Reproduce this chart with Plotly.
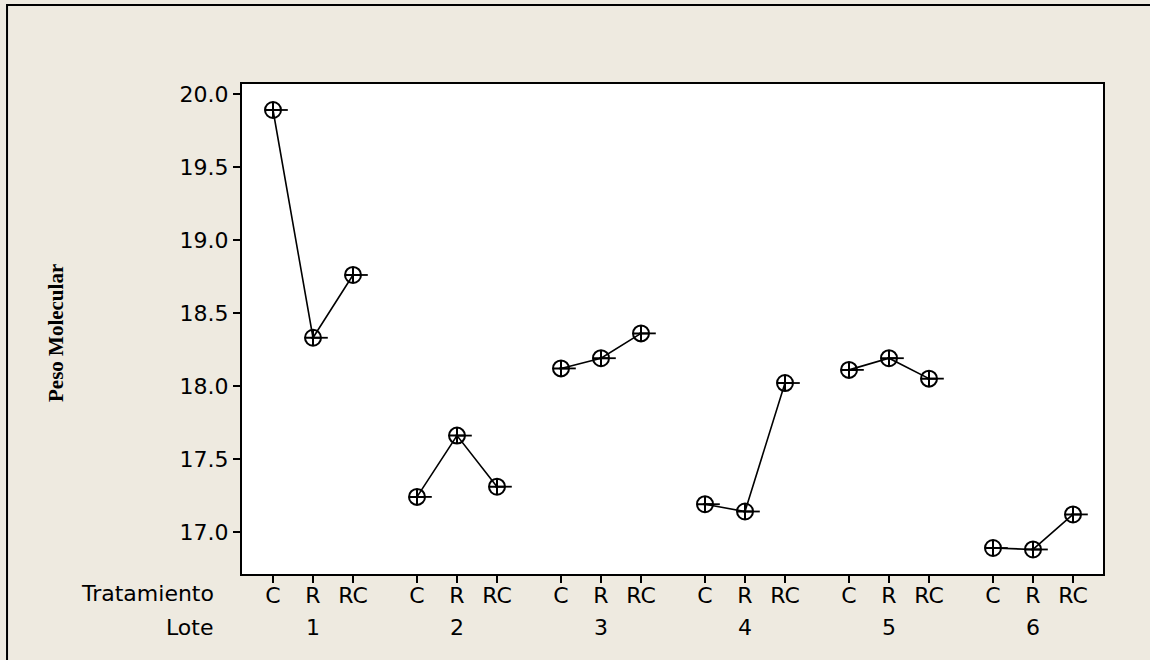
import plotly.graph_objects as go

# Molecular weight by batch (Lote) and treatment (Tratamiento)
lotes = ["1", "2", "3", "4", "5", "6"]
tratamientos = ["C", "R", "RC"]
peso_lote1 = [19.89, 18.33, 18.76]
peso_lote2 = [17.24, 17.66, 17.31]
peso_lote3 = [18.12, 18.19, 18.36]
peso_lote4 = [17.19, 17.14, 18.02]
peso_lote5 = [18.11, 18.19, 18.05]
peso_lote6 = [16.89, 16.88, 17.12]
y_ticks = [17.0, 17.5, 18.0, 18.5, 19.0, 19.5, 20.0]

series = [peso_lote1, peso_lote2, peso_lote3, peso_lote4, peso_lote5, peso_lote6]
GROUP_STEP = 3.6  # spacing between batches on the categorical axis
BG = "#EEEAE0"
FONT = "DejaVu Sans"
FS = 22

fig = go.Figure()
tick_pos, tick_txt = [], []
for g, vals in enumerate(series):
    xs = [g * GROUP_STEP + i for i in range(len(tratamientos))]
    tick_pos += xs
    tick_txt += tratamientos
    fig.add_trace(go.Scatter(
        x=xs, y=vals, mode="lines+markers",
        line=dict(color="black", width=1.6),
        marker=dict(symbol="circle-cross-open", size=16, color="black",
                    line=dict(color="black", width=2)),
        showlegend=False, hoverinfo="x+y",
    ))
    # short mean dash to the right of each symbol
    fig.add_trace(go.Scatter(
        x=[x + 0.16 for x in xs], y=vals, mode="markers",
        marker=dict(symbol="line-ew", size=12, line=dict(color="black", width=1.8)),
        showlegend=False, hoverinfo="skip",
    ))

annotations = [
    dict(text="<b>Peso Molecular</b>", textangle=-90, xref="paper", yref="paper",
         x=0, y=0.5, xanchor="center", yanchor="middle", xshift=-186, yshift=-4,
         showarrow=False,
         font=dict(family="Liberation Serif", size=21, color="black")),
    dict(text="Tratamiento", xref="paper", yref="paper", x=0, y=0,
         xanchor="right", yanchor="middle", xshift=-26, yshift=-19, showarrow=False,
         font=dict(family=FONT, size=FS, color="black")),
    dict(text="Lote", xref="paper", yref="paper", x=0, y=0,
         xanchor="right", yanchor="middle", xshift=-26, yshift=-53, showarrow=False,
         font=dict(family=FONT, size=FS, color="black")),
]
for g, name in enumerate(lotes):
    annotations.append(dict(
        text=name, xref="x", yref="paper", x=g * GROUP_STEP + 1, y=0,
        xanchor="center", yanchor="middle", yshift=-53, showarrow=False,
        font=dict(family=FONT, size=FS, color="black")))

fig.update_layout(
    width=1150, height=660,
    margin=dict(l=242, r=47, t=84, b=86),
    paper_bgcolor=BG, plot_bgcolor="white",
    font=dict(family=FONT, size=FS, color="black"),
    annotations=annotations,
    shapes=[dict(type="rect", xref="paper", yref="paper",
                 x0=-0.2729, x1=1.07, y0=-0.2, y1=1.1612,
                 line=dict(color="black", width=2), fillcolor="rgba(0,0,0,0)",
                 layer="below")],
    xaxis=dict(range=[-0.775, 20.75], tickvals=tick_pos, ticktext=tick_txt,
               ticks="outside", ticklen=7, tickwidth=2, tickcolor="black",
               showline=True, linecolor="black", linewidth=2, mirror=True,
               showgrid=False, zeroline=False, tickfont=dict(size=FS),
               ticklabelstandoff=-6),
    yaxis=dict(range=[16.712, 20.068], tickvals=y_ticks,
               ticktext=[f"{v:.1f}" for v in y_ticks],
               ticks="outside", ticklen=7, tickwidth=2, tickcolor="black",
               showline=True, linecolor="black", linewidth=2, mirror=True,
               showgrid=False, zeroline=False, tickfont=dict(size=FS)),
)

fig.write_html("out.html")
